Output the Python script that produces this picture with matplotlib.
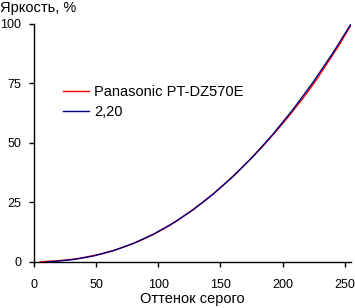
import matplotlib
matplotlib.use("Agg")
import matplotlib.pyplot as plt

plt.rcParams['font.family'] = ['Liberation Sans', 'DejaVu Sans']

# Measured curve (Panasonic PT-DZ570E)
red_x = [5, 15, 25, 35, 45, 55, 65, 75, 85, 95, 105, 115, 125, 135, 145,
         155, 165, 175, 185, 195, 205, 215, 225, 235, 245, 255]
red_y = [0.1, 0.35, 0.8, 1.4, 2.4, 3.5, 5.0, 6.8, 8.9, 11.3, 14.1, 17.3, 20.9,
         24.8, 29.0, 33.6, 38.5, 43.7, 49.2, 55.1, 61.3, 67.9, 74.9, 82.8, 90.8, 99.6]

# Reference gamma 2.20
blue_x = [10, 16, 32, 48, 64, 80, 96, 112, 128, 144, 160, 176, 192, 208, 224, 240, 255]
blue_y = [0.08, 0.23, 1.04, 2.54, 4.78, 7.81, 11.66, 16.37, 21.95, 28.45, 35.87,
          44.23, 53.56, 63.88, 75.19, 87.51, 100.0]

x_ticks = [0, 50, 100, 150, 200, 250]
y_ticks = [0, 25, 50, 75, 100]

fig = plt.figure(figsize=(3.55, 3.08), dpi=100)
ax = fig.add_axes([0.0958, 0.1494, 0.893, 0.7727])

ax.plot(red_x, red_y, color='#ff0000', lw=1.0, label='Panasonic PT-DZ570E')
ax.plot(blue_x, blue_y, color='#000080', lw=1.0, label='2,20')

ax.set_xlim(0, 255)
ax.set_ylim(0, 100)
ax.set_xticks(x_ticks)
ax.set_yticks(y_ticks)
for s in ['top', 'right']:
    ax.spines[s].set_visible(False)
for s in ['left', 'bottom']:
    ax.spines[s].set_linewidth(1.0)
ax.tick_params(axis='both', direction='out', length=3.5, width=1.0, labelsize=9, color='black')
ax.tick_params(axis='x', pad=8.5)
ax.tick_params(axis='y', pad=5.5)

ax.set_xlabel('Оттенок серого', fontsize=10.5, labelpad=1)
fig.text(0.0, 0.997, 'Яркость, %', fontsize=10.5, ha='left', va='top')

ax.legend(loc='upper left', bbox_to_anchor=(0.05, 0.80), frameon=False, fontsize=10.5,
          handlelength=1.8, handletextpad=0.35, labelspacing=0.42)

fig.savefig('out.png', dpi=100)
